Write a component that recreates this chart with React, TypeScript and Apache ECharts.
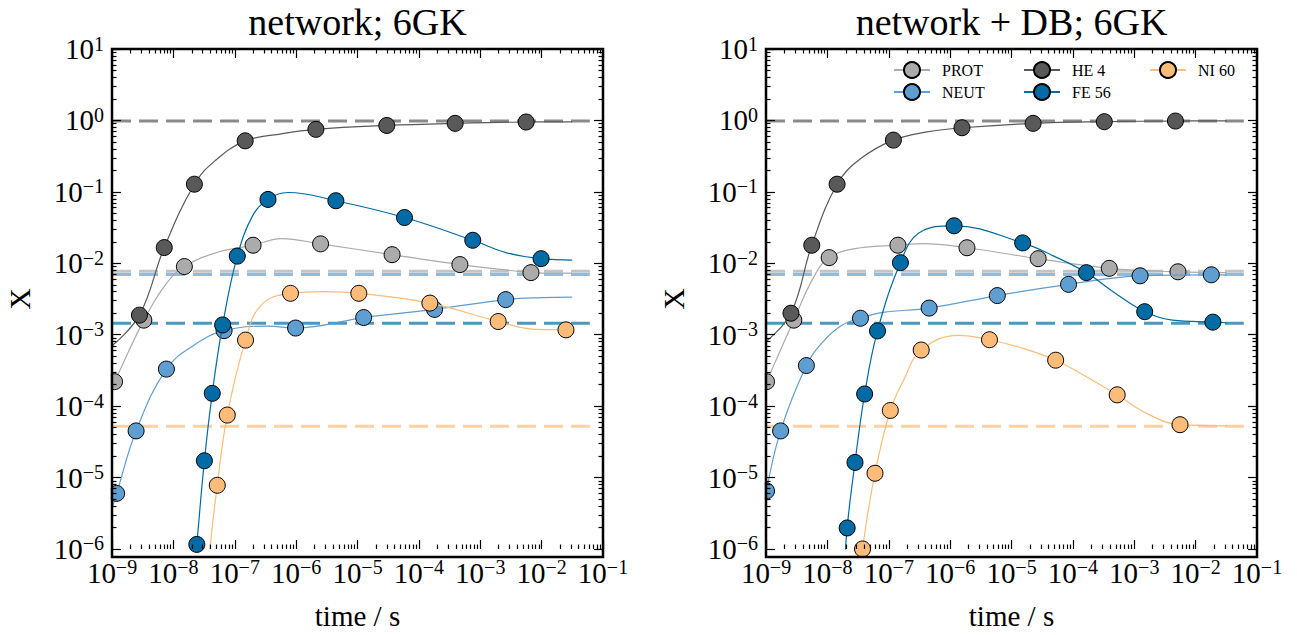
import React, { useEffect, useRef } from 'react';
import * as echarts from 'echarts';

const FONT = '"Liberation Serif", "Times New Roman", serif';

type P = [number, number];

// ---------- Panel A: network; 6GK ----------
const protA_curve: P[] = [[1e-9, 1.9e-4], [7.4e-9, 5.0e-3], [5.6e-8, 0.0145], [5.8e-7, 0.0222], [1.0e-2, 0.0073], [3.15e-2, 0.0073]];
const protA_marks: P[] = [[1.1e-9, 2.2e-4], [3.3e-9, 1.6e-3], [1.51e-8, 9.0e-3], [1.99e-7, 0.0179], [2.5e-6, 0.0187], [3.66e-5, 0.0132], [4.66e-4, 0.0096], [6.7e-3, 0.0074]];
const neutA_curve: P[] = [[1e-9, 3.7e-6], [2.2e-8, 7.2e-4], [3.5e-7, 1.32e-3], [1.0e-2, 3.3e-3], [3.15e-2, 3.35e-3]];
const neutA_marks: P[] = [[1.19e-9, 6.0e-6], [2.47e-9, 4.5e-5], [7.7e-9, 3.3e-4], [6.7e-8, 1.14e-3], [9.8e-7, 1.24e-3], [1.26e-5, 1.74e-3], [1.8e-4, 2.26e-3], [2.6e-3, 3.1e-3]];
const heA_curve: P[] = [[1e-9, 7.0e-4], [4.8e-8, 0.274], [5.8e-7, 0.65], [3.15e-2, 0.955]];
const heA_marks: P[] = [[2.8e-9, 1.88e-3], [7.1e-9, 0.0166], [2.2e-8, 0.128], [1.48e-7, 0.518], [2.1e-6, 0.75], [3.0e-5, 0.85], [3.9e-4, 0.91], [5.6e-3, 0.95]];
const feA_curve: P[] = [[2.0e-8, 2.0e-7], [2.0e-7, 0.048], [7.4e-7, 0.098], [2.7e-3, 0.014], [3.15e-2, 0.0111]];
const feA_marks: P[] = [[2.41e-8, 1.16e-6], [3.2e-8, 1.72e-5], [4.3e-8, 1.51e-4], [6.35e-8, 1.37e-3], [1.1e-7, 0.0126], [3.48e-7, 0.0783], [4.44e-6, 0.0751], [5.83e-5, 0.0437], [7.55e-4, 0.021], [9.8e-3, 0.0116]];
const niA_curve: P[] = [[3.5e-8, 2.0e-7], [2.7e-7, 2.6e-3], [3.0e-6, 4.0e-3], [7.0e-3, 1.2e-3], [3.15e-2, 1.16e-3]];
const niA_marks: P[] = [[3.92e-8, 9.3e-7], [5.19e-8, 7.8e-6], [7.55e-8, 7.5e-5], [1.5e-7, 8.4e-4], [8.1e-7, 3.8e-3], [1.05e-5, 3.8e-3], [1.51e-4, 2.77e-3], [1.96e-3, 1.53e-3], [2.49e-2, 1.17e-3]];

// ---------- Panel B: network + DB; 6GK ----------
const protB_curve: P[] = [[5.75e-9, 6.0e-3], [3.5e-8, 0.0165], [3.6e-7, 0.0189], [3.2e-2, 7.4e-3]];
const protB_marks: P[] = [[1.02e-9, 2.2e-4], [2.84e-9, 1.6e-3], [1.07e-8, 0.012], [1.41e-7, 0.0179], [1.88e-6, 0.0165], [2.72e-5, 0.0116], [3.92e-4, 8.5e-3], [5.15e-3, 7.6e-3]];
const neutB_curve: P[] = [[8.5e-9, 8.0e-4], [1.7e-8, 1.35e-3], [8.0e-8, 2.05e-3], [3.2e-2, 6.9e-3]];
const neutB_marks: P[] = [[1.02e-9, 6.5e-6], [1.73e-9, 4.5e-5], [4.55e-9, 3.7e-4], [3.46e-8, 1.7e-3], [4.55e-7, 2.36e-3], [5.87e-6, 3.53e-3], [8.5e-5, 5.07e-3], [1.245e-3, 6.68e-3], [1.8e-2, 6.9e-3]];
const heB_curve: P[] = [[1e-9, 8.0e-4], [3.46e-8, 0.29], [4.2e-7, 0.69], [3.2e-2, 0.985]];
const heB_marks: P[] = [[2.55e-9, 2.0e-3], [5.57e-9, 0.0179], [1.44e-8, 0.128], [1.19e-7, 0.53], [1.56e-6, 0.79], [2.25e-5, 0.91], [3.25e-4, 0.96], [4.69e-3, 0.98]];
const feB_curve: P[] = [[1.8e-8, 2.5e-7], [3.1e-7, 0.0265], [4.9e-5, 0.0126], [4.7e-4, 3.9e-3], [4.2e-3, 1.6e-3], [3.2e-2, 1.47e-3]];
const feB_marks: P[] = [[2.1e-8, 1.97e-6], [2.82e-8, 1.63e-5], [4.05e-8, 1.48e-4], [6.56e-8, 1.13e-3], [1.55e-7, 0.0102], [1.16e-6, 0.0335], [1.52e-5, 0.0193], [1.66e-4, 7.4e-3], [1.48e-3, 2.1e-3], [1.91e-2, 1.5e-3]];
const niB_curve: P[] = [[3.2e-8, 2.0e-7], [1.78e-7, 2.4e-4], [1.35e-6, 9.8e-4], [1.5e-5, 6.5e-4], [1.58e-4, 2.65e-4], [1.65e-3, 7.8e-5], [3.2e-2, 5.3e-5]];
const niB_marks: P[] = [[3.74e-8, 1.0e-6], [5.97e-8, 1.15e-5], [1.06e-7, 8.7e-5], [3.38e-7, 6.1e-4], [4.38e-6, 8.5e-4], [5.24e-5, 4.4e-4], [5.27e-4, 1.44e-4], [5.57e-3, 5.5e-5]];

// Equilibrium values (dashed)
const EQ_NAMES = ['PROT', 'NEUT', 'HE 4', 'FE 56', 'NI 60'];
const EQ_VALUES = [7.75e-3, 6.97e-3, 0.98, 1.45e-3, 5.24e-5];
const EQ_T: number[] = [1e-9, 0.061];

const SERIES_NAMES = ['PROT', 'NEUT', 'HE 4', 'FE 56', 'NI 60'];
const COLORS = ['#ABABAB', '#5F9ED1', '#595959', '#006BA4', '#FFBC79'];
const TITLES = ['network; 6GK', 'network + DB; 6GK'];

const X_EXP = [-9, -8, -7, -6, -5, -4, -3, -2, -1];
const Y_EXP = [-6, -5, -4, -3, -2, -1, 0, 1];

const PANELS = [
  { curves: [protA_curve, neutA_curve, heA_curve, feA_curve, niA_curve], marks: [protA_marks, neutA_marks, heA_marks, feA_marks, niA_marks] },
  { curves: [protB_curve, neutB_curve, heB_curve, feB_curve, niB_curve], marks: [protB_marks, neutB_marks, heB_marks, feB_marks, niB_marks] },
];

const GRIDS = [
  { left: 112, top: 49, width: 491, height: 508 },
  { left: 766, top: 49, width: 491, height: 508 },
];

const majors = (exps: number[]) => exps.map((e) => Math.pow(10, e));
const minors = (exps: number[]) => {
  const out: number[] = [];
  for (let i = 0; i < exps.length - 1; i++) for (let k = 2; k <= 9; k++) out.push(k * Math.pow(10, exps[i]));
  return out;
};

const supLabel = (v: number) => {
  const e = Math.round(Math.log10(v));
  const s = e < 0 ? '\u2212' + -e : String(e);
  return `{b|10}{s|${s}}`;
};

const RICH = {
  b: { fontSize: 29, fontFamily: FONT, color: '#000', lineHeight: 31 },
  s: { fontSize: 20, fontFamily: FONT, color: '#000', verticalAlign: 'top', lineHeight: 20 },
};

const hexA = (hex: string, a: number) => {
  const r = parseInt(hex.slice(1, 3), 16), g = parseInt(hex.slice(3, 5), 16), b = parseInt(hex.slice(5, 7), 16);
  return `rgba(${r},${g},${b},${a})`;
};

function buildOption() {
  const X_MIN = 0.99999e-9, X_MAX = 1.00001e-1, Y_MIN = 0.99999e-6, Y_MAX = 10.0001;
  const xMaj = majors(X_EXP), xMin = minors(X_EXP), yMaj = majors(Y_EXP), yMin = minors(Y_EXP);
  const tickStyle = { color: '#000', width: 1.2 };
  const xAxis: any[] = [];
  const yAxis: any[] = [];
  const series: any[] = [];
  GRIDS.forEach((_, g) => {
    const base = { type: 'log', logBase: 10, min: X_MIN, max: X_MAX, gridIndex: g, axisLine: { show: false }, splitLine: { show: false }, z: 10, silent: true };
    xAxis.push({
      ...base, position: 'bottom',
      axisTick: { show: true, inside: true, length: 9, lineStyle: tickStyle, customValues: xMaj },
      axisLabel: { show: true, customValues: xMaj, formatter: supLabel, rich: RICH, margin: 8 },
      name: 'time / s', nameLocation: 'middle', nameGap: 52,
      nameTextStyle: { fontSize: 29, fontFamily: FONT, color: '#000' },
    });
    xAxis.push({ ...base, position: 'bottom', axisTick: { show: true, inside: true, length: 4.5, lineStyle: tickStyle, customValues: xMin }, axisLabel: { show: false } });
    xAxis.push({ ...base, position: 'top', axisTick: { show: true, inside: true, length: 9, lineStyle: tickStyle, customValues: xMaj }, axisLabel: { show: false } });
    xAxis.push({ ...base, position: 'top', axisTick: { show: true, inside: true, length: 4.5, lineStyle: tickStyle, customValues: xMin }, axisLabel: { show: false } });
    const ybase = { ...base, min: Y_MIN, max: Y_MAX };
    yAxis.push({
      ...ybase, position: 'left',
      axisTick: { show: true, inside: true, length: 9, lineStyle: tickStyle, customValues: yMaj },
      axisLabel: { show: true, customValues: yMaj, formatter: supLabel, rich: RICH, margin: 8 },
      name: 'X', nameLocation: 'middle', nameGap: 78,
      nameTextStyle: { fontSize: 30, fontFamily: FONT, color: '#000' },
    });
    yAxis.push({ ...ybase, position: 'left', axisTick: { show: true, inside: true, length: 4.5, lineStyle: tickStyle, customValues: yMin }, axisLabel: { show: false } });
    yAxis.push({ ...ybase, position: 'right', axisTick: { show: true, inside: true, length: 9, lineStyle: tickStyle, customValues: yMaj }, axisLabel: { show: false } });
    yAxis.push({ ...ybase, position: 'right', axisTick: { show: true, inside: true, length: 4.5, lineStyle: tickStyle, customValues: yMin }, axisLabel: { show: false } });

    // dashed equilibrium lines
    EQ_VALUES.forEach((v, i) => {
      series.push({
        type: 'line', name: EQ_NAMES[i] + ' eq', xAxisIndex: g * 4, yAxisIndex: g * 4,
        data: EQ_T.map((t) => [t, v]), symbol: 'none', silent: true, clip: true, z: 1,
        lineStyle: { color: hexA(COLORS[i], 0.7), width: 3, type: [19, 8] },
      });
    });
    // curves + markers
    SERIES_NAMES.forEach((name, i) => {
      const pts = [
        ...PANELS[g].curves[i].map((p) => ({ value: p, symbol: 'none' })),
        ...PANELS[g].marks[i].map((p) => ({ value: p })),
      ].sort((a, b) => a.value[0] - b.value[0]);
      series.push({
        type: 'line', name, xAxisIndex: g * 4, yAxisIndex: g * 4, data: pts,
        smooth: 0.4, symbol: 'circle', symbolSize: 16, showSymbol: true,
        clip: true, silent: true, z: 2 + i * 0.1,
        lineStyle: { color: COLORS[i], width: 1.2 },
        itemStyle: { color: COLORS[i], borderColor: '#000', borderWidth: 1 },
      });
    });
  });

  const legendCommon = {
    orient: 'vertical', itemWidth: 36, itemHeight: 20, itemGap: 4, padding: 0, selectedMode: false,
    textStyle: { fontSize: 16, fontFamily: FONT, color: '#000', padding: [0, 0, 0, 7] },
  };
  const legend = [
    { ...legendCommon, left: 893, top: 61, data: ['PROT', 'NEUT'] },
    { ...legendCommon, left: 1023, top: 61, data: ['HE 4', 'FE 56'] },
    { ...legendCommon, left: 1149, top: 61, data: ['NI 60'] },
  ];

  const graphic: any[] = [];
  GRIDS.forEach((gr, g) => {
    graphic.push({
      type: 'text', x: gr.left + gr.width / 2, y: 22, z: 20,
      style: { text: TITLES[g], fontSize: 38, fontFamily: FONT, fill: '#000', align: 'center', verticalAlign: 'middle' },
    });
    // clipping strips outside the frame (hide marker parts outside the axes)
    graphic.push({ type: 'rect', z: 9, silent: true, shape: { x: gr.left - 12, y: gr.top - 2, width: 10.7, height: gr.height + 14 }, style: { fill: '#fff' } });
    graphic.push({ type: 'rect', z: 9, silent: true, shape: { x: gr.left - 12, y: gr.top + gr.height + 1.3, width: gr.width + 14, height: 8 }, style: { fill: '#fff' } });
    // frame
    graphic.push({ type: 'rect', z: 11, silent: true, shape: { x: gr.left, y: gr.top, width: gr.width, height: gr.height }, style: { fill: 'none', stroke: '#000', lineWidth: 2.5 } });
  });

  return {
    animation: false,
    backgroundColor: '#fff',
    grid: GRIDS.map((g) => ({ ...g, show: false })),
    xAxis, yAxis, series, legend, graphic,
  };
}

export default function App() {
  const ref = useRef<HTMLDivElement>(null);
  useEffect(() => {
    if (!ref.current) return;
    const chart = echarts.init(ref.current, undefined, { renderer: 'svg' });
    chart.setOption(buildOption() as any);
    return () => chart.dispose();
  }, []);
  return <div ref={ref} style={{ position: 'fixed', left: 0, top: 0, width: 1297, height: 635, background: '#fff' }} />;
}
